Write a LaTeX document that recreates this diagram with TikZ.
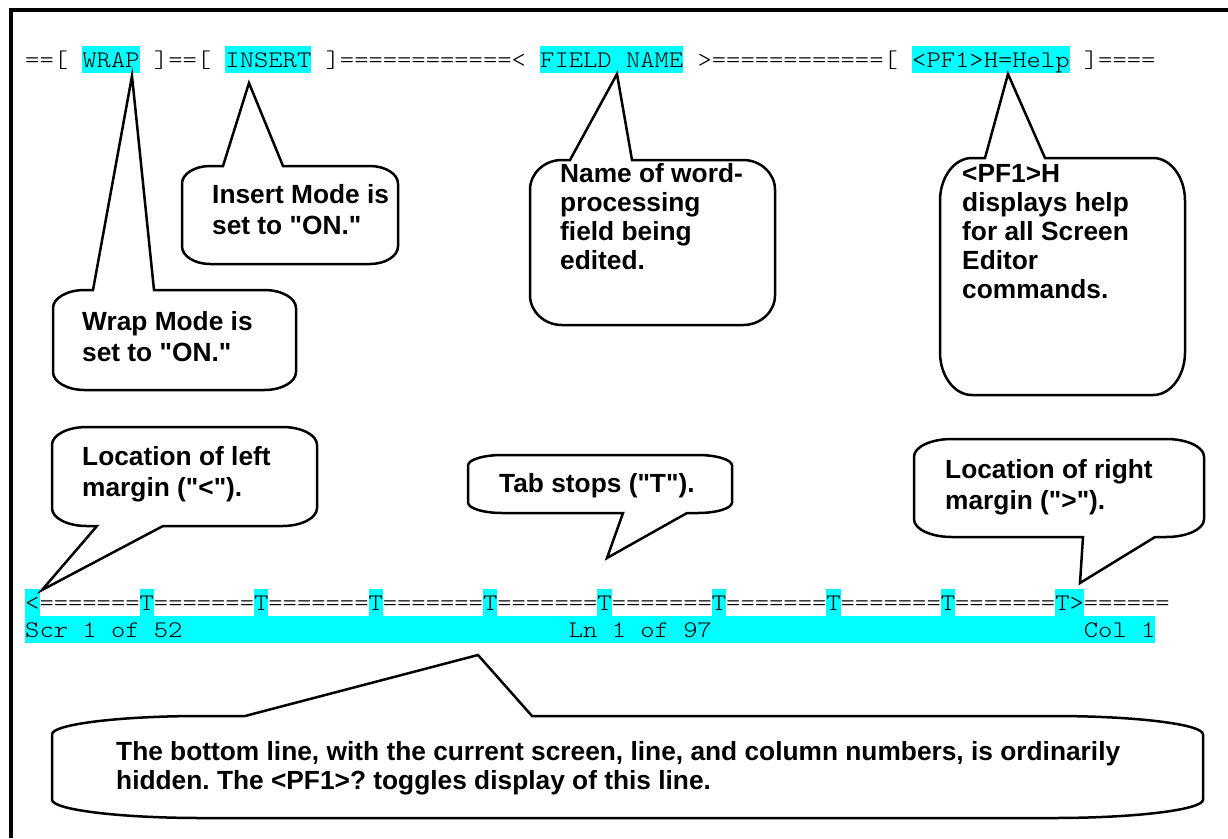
\documentclass[tikz,border=0pt]{standalone}
\usepackage{fontspec}
\setmainfont{Liberation Sans}
\newfontfamily\crtfont[FakeStretch=1.145]{lmmonolt10-regular.otf}
\usetikzlibrary{positioning, calc}

\definecolor{scrcyan}{RGB}{0,255,255}
\newcommand{\hl}[1]{{\setlength{\fboxsep}{0pt}\colorbox{scrcyan}{\rule[-6pt]{0pt}{27pt}#1}}}
\newcommand{\q}{\textquotedbl}
% l, t, r, b, tail left, tail right, tip
\newcommand{\topcallout}[7]{%
  \pgfmathsetmacro\rx{0.13*(#3-#1)}\pgfmathsetmacro\ry{0.18*(#4-#2)}%
  \draw[bubble] (#1,#2+\ry) .. controls (#1,#2+0.45*\ry) and (#1+0.45*\rx,#2) .. (#1+\rx,#2)
    -- (#5,#2) -- (#7) -- (#6,#2)
    -- (#3-\rx,#2) .. controls (#3-0.45*\rx,#2) and (#3,#2+0.45*\ry) .. (#3,#2+\ry)
    -- (#3,#4-\ry) .. controls (#3,#4-0.45*\ry) and (#3-0.45*\rx,#4) .. (#3-\rx,#4)
    -- (#1+\rx,#4) .. controls (#1+0.45*\rx,#4) and (#1,#4-0.45*\ry) .. (#1,#4-\ry) -- cycle;}
\newcommand{\botcallout}[7]{%
  \pgfmathsetmacro\rx{0.13*(#3-#1)}\pgfmathsetmacro\ry{0.18*(#4-#2)}%
  \draw[bubble] (#1,#2+\ry) .. controls (#1,#2+0.45*\ry) and (#1+0.45*\rx,#2) .. (#1+\rx,#2)
    -- (#3-\rx,#2) .. controls (#3-0.45*\rx,#2) and (#3,#2+0.45*\ry) .. (#3,#2+\ry)
    -- (#3,#4-\ry) .. controls (#3,#4-0.45*\ry) and (#3-0.45*\rx,#4) .. (#3-\rx,#4)
    -- (#6,#4) -- (#7) -- (#5,#4)
    -- (#1+\rx,#4) .. controls (#1+0.45*\rx,#4) and (#1,#4-0.45*\ry) .. (#1,#4-\ry) -- cycle;}

\tikzset{
  crt/.style={font=\crtfont\fontsize{23.8}{27}\selectfont, inner sep=0pt, anchor=base west},
  note/.style={font=\bfseries\fontsize{26.3}{30.5}\selectfont, inner sep=0pt, anchor=base west, align=left},
  tight/.style={font=\bfseries\fontsize{26.3}{29}\selectfont},
  bubble/.style={draw=black, line width=2.5pt, fill=white},
  frame/.style={line width=3.3pt}
}

\begin{document}
\frenchspacing
\begin{tikzpicture}[x=1pt,y=-1pt]
  \useasboundingbox (0,0) rectangle (1228,838);
  \draw[frame] (11,838) -- (11,10) -- (1228,10);%frame

  % screen rows
  \node[crt] (topline) at (25,67) {==[ \hl{WRAP} ]==[ \hl{INSERT} ]============< \hl{FIELD NAME} >============[ \hl{<PF1>H=Help} ]====};
  \node[crt] (ruler) at (25,610) {\hl{<}=======\hl{T}=======\hl{T}=======\hl{T}=======\hl{T}=======\hl{T}=======\hl{T}=======\hl{T}=======\hl{T}=======\hl{T>}======};
  \node[crt] (status) at (25,637) {\hl{Scr 1 of 52~~~~~~~~~~~~~~~~~~~~~~~~~~~Ln 1 of 97~~~~~~~~~~~~~~~~~~~~~~~~~~Col 1}};

  % tips
  \coordinate (wraptip) at (132,76);
  \coordinate (inserttip) at (249,83);
  \coordinate (fieldtip) at (617,74);
  \coordinate (helptip) at (1008,74);
  \coordinate (lefttip) at (42,590);
  \coordinate (tabtip) at (607,558);
  \coordinate (righttip) at (1080,583);
  \coordinate (hiddentip) at (478,655);

  \topcallout{53}{290}{296}{390}{93}{154}{wraptip}
  \topcallout{182}{166}{398}{264}{223}{283}{inserttip}
  \topcallout{530}{160}{775}{325}{570}{632}{fieldtip}
  \topcallout{940}{158}{1185}{395}{985}{1045}{helptip}
  \botcallout{52}{427}{317}{526}{97}{163}{lefttip}
  \botcallout{468}{455}{732}{513}{623}{687}{tabtip}
  \botcallout{914}{439}{1204}{537}{1083}{1155}{righttip}
  \topcallout{52}{716}{1203}{818}{245}{532}{hiddentip}

  % base anchor sits on the last line
  \node[note] (wraptext) at (82,361) {Wrap Mode is\\set to \q ON.\q};
  \node[note] (inserttext) at (212,234) {Insert Mode is\\set to \q ON.\q};
  \node[note,tight] (fieldtext) at (560,269) {Name of word-\\processing\\field being\\edited.};
  \node[note,tight] (helptext) at (962,298) {<PF1>H\\displays help\\for all Screen\\Editor\\commands.};
  \node[note] (lefttext) at (82,496) {Location of left\\margin (\q<\q).};
  \node[note] (tabtext) at (499,492) {Tab stops (\q T\q).};
  \node[note] (righttext) at (945,509) {Location of right\\margin (\q>\q).};
  \node[note,tight] (hiddentext) at (116,789) {The bottom line, with the current screen, line, and column numbers, is ordinarily\\hidden. The <PF1>? toggles display of this line.};
\end{tikzpicture}
\end{document}
